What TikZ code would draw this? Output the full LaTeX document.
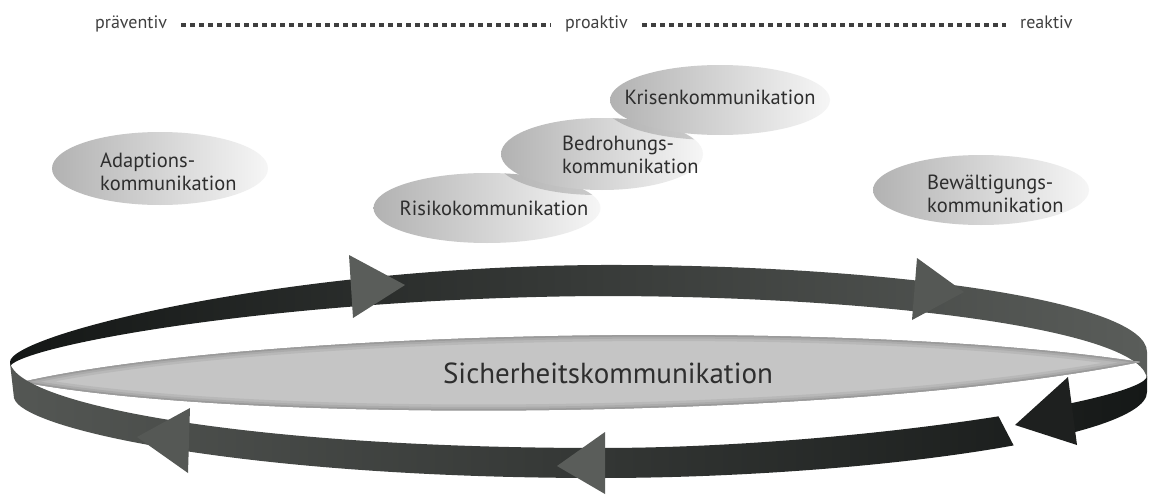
\documentclass[tikz,border=0pt]{standalone}
\usepackage{fontspec}
\setmainfont{PT Sans}
\definecolor{txt}{HTML}{2E2E2E}
\definecolor{toptxt}{HTML}{404040}
\definecolor{dotc}{HTML}{3F3F3F}
\definecolor{bubL}{HTML}{B2B2B2}
\definecolor{bubR}{HTML}{F6F6F6}
\definecolor{bkL}{HTML}{141716}
\definecolor{bkM}{HTML}{3B3D3C}
\definecolor{bkR}{HTML}{5A5D5A}
\definecolor{frL}{HTML}{545754}
\definecolor{frM}{HTML}{444644}
\definecolor{frR}{HTML}{151817}
\definecolor{lensMid}{HTML}{C5C5C5}
\definecolor{lensR1}{HTML}{B8B8B8}
\definecolor{lensR2}{HTML}{ABABAB}
\definecolor{lensR3}{HTML}{9A9A9A}
\definecolor{arrLight}{HTML}{5A5D5A}
\definecolor{arrMid}{HTML}{555855}
\definecolor{arrDark}{HTML}{1E201F}
\begin{document}
\begin{tikzpicture}[x=1pt,y=-1pt,
  bubble/.style={left color=bubL, right color=bubR, draw=none},
  lbl/.style={font=\fontsize{20.5}{23}\selectfont, text=txt, inner sep=0pt},
  toplbl/.style={font=\fontsize{18}{21}\selectfont, text=toptxt, inner sep=0pt, text height=12.5pt, text depth=4pt},
  dotline/.style={draw=dotc, line width=4pt, dash pattern=on 4.5pt off 4.5pt, shorten <=14pt, shorten >=14pt},
  backband/.style={left color=bkL, middle color=bkM, right color=bkR},
  frontband/.style={left color=frL, middle color=frM, right color=frR},
  shadowc/.style={fill=black, opacity=0.17}
]
\useasboundingbox (0,0) rectangle (1150,495);
\fill[white] (0,0) rectangle (1150,495);

% top scale
\node[toplbl, anchor=base west] (prae) at (95,29) {präventiv};
\node[toplbl, anchor=base west] (pro) at (565,29) {proaktiv};
\node[toplbl, anchor=base west] (re) at (1020,29) {reaktiv};
\draw[dotline] (prae.east) -- (pro.west);
\draw[dotline] (pro.east) -- (re.west);

% bubbles
\path[bubble] (160,168.5) ellipse [x radius=108pt, y radius=36.5pt];
\path[bubble] (981,190) ellipse [x radius=108pt, y radius=35pt];
\path[bubble] (487,208) ellipse [x radius=113.5pt, y radius=35pt];
\begin{scope}
  \clip (487,208) ellipse [x radius=113.5pt, y radius=35pt];
  \fill[shadowc] (597,159) ellipse [x radius=101pt, y radius=36pt];
\end{scope}
\path[bubble] (602,154) ellipse [x radius=101pt, y radius=36pt];
\begin{scope}
  \clip (602,154) ellipse [x radius=101pt, y radius=36pt];
  \fill[shadowc] (715,105) ellipse [x radius=110pt, y radius=35pt];
\end{scope}
\path[bubble] (720,100) ellipse [x radius=110pt, y radius=35pt];

\node[lbl, anchor=west, align=left] (adapt) at (100,171.5) {Adaptions-\\kommunikation};
\node[lbl] (risiko) at (494,208) {Risikokommunikation};
\node[lbl, anchor=west, align=left] (bedr) at (562,155) {Bedrohungs-\\kommunikation};
\node[lbl] (krise) at (720,97) {Krisenkommunikation};
\node[lbl, anchor=west, align=left] (bewae) at (927,194) {Bewältigungs-\\kommunikation};

% back half of the ribbon
\path[backband] (10,362) .. controls (10,335) and (280,267) .. (600,265)
  .. controls (880,264) and (1147,300) .. (1147,352) -- (1147,380)
  .. controls (1147,330) and (880,296) .. (600,296)
  .. controls (280,298) and (25,345) .. (10,366) -- cycle;

% central lens
\fill[lensMid] (22,382) .. controls (250,330) and (850,318) .. (1140,362)
  .. controls (850,420) and (250,425) .. (22,382) -- cycle;
\begin{scope}
  \clip (22,382) .. controls (250,330) and (850,318) .. (1140,362)
    .. controls (850,420) and (250,425) .. (22,382) -- cycle;
  \draw[lensR1, line width=12pt] (22,382) .. controls (250,330) and (850,318) .. (1140,362)
    .. controls (850,420) and (250,425) .. (22,382) -- cycle;
  \draw[lensR2, line width=7pt] (22,382) .. controls (250,330) and (850,318) .. (1140,362)
    .. controls (850,420) and (250,425) .. (22,382) -- cycle;
  \draw[lensR3, line width=3pt] (22,382) .. controls (250,330) and (850,318) .. (1140,362)
    .. controls (850,420) and (250,425) .. (22,382) -- cycle;
\end{scope}
\node[font=\fontsize{29}{34}\selectfont, text=txt, inner sep=0pt] (sich) at (608,373) {Sicherheitskommunikation};

% front half of the ribbon (cut for the arrow)
\begin{scope}
  \clip (-10,300) -- (938,300) -- (1042,500) -- (-10,500) -- cycle;
  \path[frontband] (10,363) .. controls (20,405) and (250,448) .. (600,448)
    .. controls (850,448) and (1147,400) .. (1147,376) -- (1147,392)
    .. controls (1147,440) and (850,478) .. (600,478)
    .. controls (250,478) and (22,430) .. (14,398) -- cycle;
\end{scope}
\begin{scope}
  \clip (1050,300) -- (1200,300) -- (1200,500) -- (1078,500) -- cycle;
  \path[frontband] (10,363) .. controls (20,405) and (250,448) .. (600,448)
    .. controls (850,448) and (1147,400) .. (1147,376) -- (1147,392)
    .. controls (1147,440) and (850,478) .. (600,478)
    .. controls (250,478) and (22,430) .. (14,398) -- cycle;
\end{scope}

% arrowheads
\fill[arrLight] (349,255) -- (405,285) -- (353,318) -- cycle;
\fill[arrMid] (917,258) -- (964,292) -- (912,320) -- cycle;
\fill[arrMid] (190,408) -- (137,437) -- (188,473) -- cycle;
\fill[arrLight] (605,432) -- (557,466) -- (605,494) -- cycle;
\fill[arrDark] (1068,377) -- (1015,425) -- (1077,445) -- cycle;
\end{tikzpicture}
\end{document}
